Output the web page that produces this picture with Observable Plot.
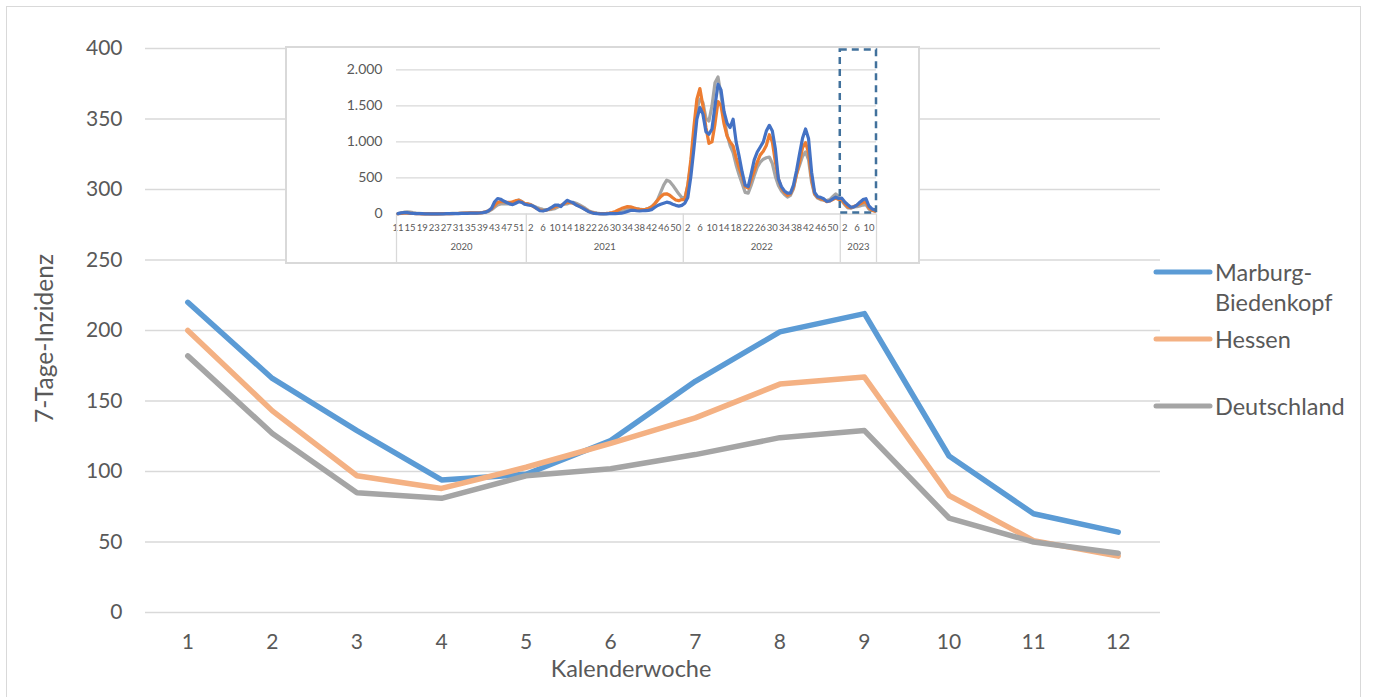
<!DOCTYPE html>
<html>
<head>
<meta charset="utf-8">
<script src="https://cdn.jsdelivr.net/npm/d3@7"></script>
<script src="https://cdn.jsdelivr.net/npm/@observablehq/plot@0.6"></script>
<style>
  body { margin: 0; background: #fff; font-family: Lato, sans-serif; }
  #wrap { position: relative; width: 1373px; height: 697px; overflow: hidden; background: #fff; }
  #frame { position: absolute; left: 6px; top: 6px; width: 1355px; height: 730px; border: 1px solid #d9d9d9; box-sizing: border-box; }
  #main { position: absolute; left: 0; top: 0; }
  #inset { position: absolute; left: 286px; top: 47px; width: 633px; height: 216px; background: #fff; }
  #insetBorder { position: absolute; left: 285px; top: 46px; width: 635px; height: 218px; border: 2px solid #d9d9d9; box-sizing: border-box; pointer-events: none; }
  #legend { position: absolute; left: 1140px; top: 240px; }
</style>
</head>
<body>
<div id="wrap">
  <div id="frame"></div>
  <div id="main"></div>
  <div id="inset"></div>
  <div id="insetBorder"></div>
  <svg id="legend" width="230" height="200"></svg>
</div>
<script>
// ---------- Main chart data ----------
const weeks = [1, 2, 3, 4, 5, 6, 7, 8, 9, 10, 11, 12];
const marburg = [220, 166, 129, 94, 98, 122, 164, 199, 212, 111, 70, 57];
const hessen = [200, 143, 97, 88, 103, 120, 138, 162, 167, 83, 51, 40];
const deutschland = [182, 127, 85, 81, 97, 102, 112, 124, 129, 67, 50, 42];
const yTicks = [0, 50, 100, 150, 200, 250, 300, 350, 400];
const seriesNames = ["Marburg-Biedenkopf", "Hessen", "Deutschland"];
const mainColors = ["#5B9BD5", "#F4B183", "#A5A5A5"];
const xTitle = "Kalenderwoche";
const yTitle = "7-Tage-Inzidenz";

// ---------- Inset data (weekly 7-day incidence, 2020 KW11 – 2023 KW12) ----------
const insetYears = [2020, 2021, 2022, 2023];
const insetFirstWeek = [11, 1, 1, 1];
const insetLastWeek = [53, 52, 52, 12];
const insetTickWeeks = [
  [11, 15, 19, 23, 27, 31, 35, 39, 43, 47, 51],
  [2, 6, 10, 14, 18, 22, 26, 30, 34, 38, 42, 46, 50],
  [2, 6, 10, 14, 18, 22, 26, 30, 34, 38, 42, 46, 50],
  [2, 6, 10]
];
const insetYTicks = [0, 500, 1000, 1500, 2000];
const insetColors = ["#4472C4", "#ED7D31", "#A5A5A5"];

const mb2020 = [5,15,20,18,12,8,6,5,4,3, 3,3,3,3,3,3,4,4,5,5, 6,8,10,10,12,12,12,14,18,25, 45,80,170,215,205,180,160,140,130,150, 170,160,135];
const he2020 = [3,8,12,12,10,7,5,4,3,3, 3,3,3,3,3,4,4,5,6,7, 8,10,12,14,15,15,15,16,20,30, 45,75,120,160,175,170,160,160,170,185, 190,170,145];
const de2020 = [5,12,25,30,25,18,12,9,6,5, 4,3,3,3,4,4,5,6,8,9, 10,12,14,15,14,13,12,14,18,25, 35,60,95,125,140,140,140,140,150,170, 195,175,140];

const mb2021 = [125,120,105,75,45,42,52,70,95,122, 125,104,150,190,172,155,125,105,85,60, 35,20,8,4,3,3,3,4,5,6, 8,11,20,35,50,52,45,42,45,48, 50,60,90,118,135,150,164,155,136,120, 110,120];
const he2021 = [140,125,100,75,55,48,52,65,80,100, 115,120,140,165,160,150,130,110,90,65, 40,22,12,7,6,6,8,12,20,35, 55,75,90,102,100,85,72,65,62,65, 75,100,140,190,240,275,280,260,225,195, 185,200];
const de2021 = [140,130,110,90,75,65,60,62,65,75, 95,120,135,140,155,162,150,130,105,80, 50,30,20,12,7,6,6,8,13,18, 22,30,50,70,80,80,75,68,62,65, 80,100,140,200,300,400,470,450,400,340, 280,230];

const mb2022 = [150,230,520,900,1315,1477,1384,1140,1107,1180, 1500,1800,1720,1420,1260,1200,1315,1000,800,580, 400,380,560,750,860,930,1000,1150,1230,1150, 900,488,380,320,290,290,400,600,830,1050, 1180,1043,580,300,240,230,211,175,180,210, 233,215];
const he2022 = [200,400,750,1200,1592,1740,1500,1200,980,1000, 1250,1560,1500,1250,1080,1000,945,780,640,520, 380,360,480,600,720,820,870,950,1100,1000, 720,488,360,300,260,280,370,550,720,920, 990,850,488,280,230,210,200,170,180,200, 220,200];
const de2022 = [220,400,700,1100,1454,1592,1546,1330,1290,1500, 1820,1900,1650,1350,1100,950,853,680,540,420, 300,290,400,530,650,720,760,780,790,700, 520,395,320,270,235,260,350,550,672,800, 860,750,441,270,220,200,190,187,200,240, 280,240];

// 2023 KW1–12 in the inset are the main chart's values
const insetSeries = [
  {name: "Deutschland", color: insetColors[2], parts: [de2020, de2021, de2022, deutschland]},
  {name: "Hessen", color: insetColors[1], parts: [he2020, he2021, he2022, hessen]},
  {name: "Marburg-Biedenkopf", color: insetColors[0], parts: [mb2020, mb2021, mb2022, marburg]}
];

// ---------- Main chart ----------
const mainRows = [];
[marburg, hessen, deutschland].forEach((arr, s) => {
  arr.forEach((v, k) => mainRows.push({week: weeks[k], value: v, series: seriesNames[s]}));
});

const textColor = "#595959";
const main = Plot.plot({
  width: 1373,
  height: 697,
  marginLeft: 145,
  marginRight: 213,
  marginTop: 48,
  marginBottom: 85,
  style: {fontFamily: "Lato, sans-serif", color: textColor, background: "transparent", overflow: "visible"},
  x: {domain: [0.5, 12.5]},
  y: {domain: [0, 400]},
  color: {domain: seriesNames, range: mainColors},
  marks: [
    Plot.gridY(yTicks, {stroke: "#d9d9d9", strokeOpacity: 1, strokeWidth: 1.3}),
    Plot.axisY(yTicks, {tickSize: 0, tickPadding: 23, fontSize: 21, label: null}),
    Plot.axisX(weeks, {tickSize: 0, tickPadding: 22, fontSize: 21, label: null}),
    Plot.line(mainRows, {x: "week", y: "value", z: "series", stroke: "series",
      strokeWidth: 5.5, strokeLinejoin: "round", strokeLinecap: "round"}),
    Plot.text([xTitle], {frameAnchor: "bottom", dx: -22, dy: 64, fontSize: 23.5, fill: textColor}),
    Plot.text([yTitle], {frameAnchor: "left", textAnchor: "middle", dx: -100, dy: 8, rotate: -90, fontSize: 24.5, fill: textColor})
  ]
});
document.getElementById("main").append(main);

// ---------- Legend ----------
const leg = d3.select("#legend");
const legendItems = [
  {lines: ["Marburg-", "Biedenkopf"], color: mainColors[0], y: 32},
  {lines: ["Hessen"], color: mainColors[1], y: 99},
  {lines: ["Deutschland"], color: mainColors[2], y: 166}
];
legendItems.forEach(it => {
  leg.append("line").attr("x1", 16).attr("x2", 70).attr("y1", it.y).attr("y2", it.y)
    .attr("stroke", it.color).attr("stroke-width", 5).attr("stroke-linecap", "round");
  it.lines.forEach((t, j) => {
    leg.append("text").attr("x", 75).attr("y", it.y + j * 30)
      .attr("dominant-baseline", "central").attr("font-size", 23.5)
      .attr("font-family", "Lato, sans-serif").attr("fill", textColor).text(t);
  });
});

// ---------- Inset chart ----------
const insetRows = [];
const weekOfIndex = [];
const yearBounds = [];
let idx = 0;
insetYears.forEach((yr, p) => {
  const start = idx;
  for (let w = insetFirstWeek[p]; w <= insetLastWeek[p]; w++) {
    weekOfIndex.push({i: idx, week: w, year: yr});
    idx++;
  }
  yearBounds.push({year: yr, start: start - 0.5, end: idx - 0.5, mid: (start + idx - 1) / 2});
});
insetSeries.forEach(s => {
  let k = 0;
  s.parts.forEach(arr => arr.forEach(v => { insetRows.push({i: k, value: v, series: s.name}); k++; }));
});
const tickIdx = [];
const tickLabel = new Map();
insetYears.forEach((yr, p) => {
  insetTickWeeks[p].forEach(w => {
    const e = weekOfIndex.find(d => d.year === yr && d.week === w);
    tickIdx.push(e.i); tickLabel.set(e.i, String(w));
  });
});
const boundaries = [yearBounds[0].start, ...yearBounds.map(b => b.end)];
const lastYear = yearBounds[yearBounds.length - 1];
const deFormat = d3.formatLocale({decimal: ",", thousands: ".", grouping: [3], currency: ["", "€"]}).format(",");

const inset = Plot.plot({
  width: 633,
  height: 216,
  marginLeft: 110,
  marginRight: 43,
  marginTop: 22.3,
  marginBottom: 49.5,
  style: {fontFamily: "Lato, sans-serif", color: textColor, background: "#fff", overflow: "visible"},
  x: {domain: [-0.5, idx - 0.5]},
  y: {domain: [0, 2000]},
  color: {domain: insetSeries.map(s => s.name), range: insetSeries.map(s => s.color)},
  marks: [
    Plot.gridY(insetYTicks, {stroke: "#d9d9d9", strokeOpacity: 1, strokeWidth: 1.3}),
    Plot.axisY(insetYTicks, {tickSize: 0, tickPadding: 14, fontSize: 14, tickFormat: deFormat, label: null}),
    Plot.axisX(tickIdx, {tickSize: 0, tickPadding: 10, fontSize: 9.5, tickFormat: d => tickLabel.get(d), label: null}),
    Plot.ruleX(boundaries, {stroke: "#d9d9d9", strokeWidth: 1.3, insetTop: 144.2, insetBottom: -49.5}),
    Plot.text(yearBounds, {x: "mid", text: d => String(d.year), frameAnchor: "bottom", dy: 36, fontSize: 9.5, fill: textColor}),
    Plot.line(insetRows, {x: "i", y: "value", z: "series", stroke: "series",
      strokeWidth: 3.2, strokeLinejoin: "round", strokeLinecap: "round"}),
    Plot.rect([lastYear], {x1: "start", x2: "end", y1: () => 0, y2: () => 2000, insetTop: -19.8, insetBottom: 1,
      fill: "none", stroke: "#41719C", strokeWidth: 2.5, strokeDasharray: "7,5"})
  ]
});
document.getElementById("inset").append(inset);
</script>
</body>
</html>
